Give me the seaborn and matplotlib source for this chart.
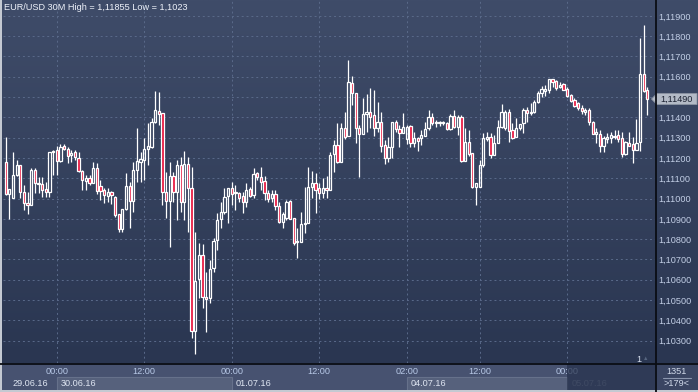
import matplotlib
matplotlib.use("Agg")
import matplotlib.pyplot as plt
import matplotlib.transforms as mtransforms
from matplotlib.patches import Rectangle, Polygon
import numpy as np
import seaborn as sns

# ---------------- data (EUR/USD 30M candles) ----------------
opens = [1.11179, 1.11022, 1.11002, 1.11115, 1.11165, 1.11032, 1.10977, 1.10967, 1.11140, 1.11071,
         1.11071, 1.11046, 1.11032, 1.11229, 1.11239, 1.11184, 1.11258, 1.11243, 1.11214, 1.11229,
         1.11199, 1.11135, 1.11086, 1.11101, 1.11076, 1.11150, 1.11061, 1.11041, 1.11012, 1.11032,
         1.11007, 1.10923, 1.10849, 1.10948, 1.11061, 1.10987, 1.11140, 1.11179, 1.11189, 1.11243,
         1.11253, 1.11377, 1.11431, 1.11421, 1.11032, 1.10987, 1.11110, 1.11032, 1.11165, 1.10982,
         1.11170, 1.11051, 1.10346, 1.10603, 1.10721, 1.10514, 1.10509, 1.10657, 1.10795, 1.10898,
         1.10933, 1.11012, 1.11051, 1.11027, 1.11027, 1.11012, 1.10982, 1.11046, 1.11017, 1.11125,
         1.11106, 1.11086, 1.11027, 1.11002, 1.11022, 1.10962, 1.10883, 1.10903, 1.10987, 1.10903,
         1.10785, 1.10785, 1.10873, 1.10878, 1.11056, 1.11076, 1.11051, 1.11027, 1.11051, 1.11041,
         1.11219, 1.11263, 1.11179, 1.11347, 1.11308, 1.11569, 1.11520, 1.11347, 1.11317, 1.11416,
         1.11426, 1.11411, 1.11347, 1.11377, 1.11263, 1.11199, 1.11253, 1.11377, 1.11342, 1.11322,
         1.11293, 1.11357, 1.11273, 1.11298, 1.11298, 1.11308, 1.11347, 1.11401, 1.11372, 1.11372,
         1.11372, 1.11372, 1.11342, 1.11406, 1.11352, 1.11401, 1.11184, 1.11278, 1.11224, 1.11056,
         1.11056, 1.11165, 1.11293, 1.11303, 1.11214, 1.11273, 1.11352, 1.11347, 1.11426, 1.11337,
         1.11303, 1.11347, 1.11372, 1.11436, 1.11421, 1.11426, 1.11475, 1.11520, 1.11529, 1.11534,
         1.11589, 1.11579, 1.11549, 1.11564, 1.11539, 1.11510, 1.11485, 1.11470, 1.11446, 1.11426,
         1.11436, 1.11377, 1.11317, 1.11317, 1.11258, 1.11293, 1.11298, 1.11303, 1.11312, 1.11298,
         1.11219, 1.11273, 1.11268, 1.11239, 1.11278, 1.11613, 1.11534]
highs = [1.11303, 1.11046, 1.11229, 1.11189, 1.11165, 1.11066, 1.11032, 1.11150, 1.11150, 1.11106,
         1.11106, 1.11081, 1.11229, 1.11239, 1.11258, 1.11268, 1.11268, 1.11253, 1.11239, 1.11239,
         1.11229, 1.11140, 1.11115, 1.11115, 1.11179, 1.11174, 1.11091, 1.11051, 1.11051, 1.11036,
         1.11012, 1.10923, 1.10948, 1.11125, 1.11081, 1.11179, 1.11347, 1.11229, 1.11298, 1.11372,
         1.11396, 1.11529, 1.11524, 1.11421, 1.11130, 1.11179, 1.11130, 1.11189, 1.11204, 1.11234,
         1.11204, 1.11155, 1.10834, 1.10780, 1.10775, 1.10637, 1.10696, 1.10805, 1.10928, 1.10982,
         1.11051, 1.11051, 1.11081, 1.11066, 1.11032, 1.11032, 1.11076, 1.11056, 1.11150, 1.11130,
         1.11155, 1.11110, 1.11041, 1.11041, 1.11041, 1.10982, 1.10933, 1.10992, 1.10992, 1.10903,
         1.10854, 1.10933, 1.11056, 1.11155, 1.11135, 1.11125, 1.11076, 1.11101, 1.11110, 1.11229,
         1.11288, 1.11372, 1.11372, 1.11426, 1.11682, 1.11603, 1.11520, 1.11362, 1.11495, 1.11515,
         1.11544, 1.11534, 1.11475, 1.11426, 1.11288, 1.11303, 1.11377, 1.11386, 1.11362, 1.11421,
         1.11362, 1.11362, 1.11327, 1.11303, 1.11337, 1.11377, 1.11436, 1.11421, 1.11386, 1.11381,
         1.11381, 1.11377, 1.11416, 1.11436, 1.11411, 1.11411, 1.11347, 1.11337, 1.11224, 1.11076,
         1.11189, 1.11322, 1.11327, 1.11322, 1.11312, 1.11386, 1.11465, 1.11436, 1.11441, 1.11372,
         1.11396, 1.11367, 1.11446, 1.11450, 1.11470, 1.11485, 1.11529, 1.11554, 1.11559, 1.11589,
         1.11589, 1.11584, 1.11574, 1.11569, 1.11549, 1.11515, 1.11495, 1.11475, 1.11460, 1.11446,
         1.11446, 1.11381, 1.11347, 1.11337, 1.11308, 1.11322, 1.11327, 1.11337, 1.11337, 1.11327,
         1.11283, 1.11327, 1.11303, 1.11391, 1.11791, 1.11855, 1.11549]
lows = [1.11017, 1.10898, 1.11002, 1.11110, 1.11002, 1.10943, 1.10923, 1.10967, 1.11027, 1.11027,
        1.11007, 1.11007, 1.11007, 1.11115, 1.11115, 1.11179, 1.11239, 1.11174, 1.11179, 1.11189,
        1.11130, 1.11041, 1.11041, 1.11066, 1.11076, 1.11022, 1.10992, 1.10977, 1.10982, 1.10972,
        1.10908, 1.10834, 1.10834, 1.10943, 1.10854, 1.10933, 1.11081, 1.11081, 1.11091, 1.11165,
        1.11248, 1.11372, 1.11362, 1.10967, 1.10903, 1.10760, 1.10982, 1.10893, 1.10933, 1.10893,
        1.10834, 1.10312, 1.10233, 1.10509, 1.10460, 1.10341, 1.10484, 1.10637, 1.10746, 1.10854,
        1.10923, 1.10878, 1.10967, 1.10943, 1.10982, 1.10928, 1.10957, 1.11007, 1.11002, 1.11091,
        1.11041, 1.10992, 1.10982, 1.10982, 1.10943, 1.10878, 1.10854, 1.10893, 1.10898, 1.10770,
        1.10706, 1.10785, 1.10829, 1.10878, 1.11002, 1.10928, 1.10997, 1.11002, 1.11002, 1.11041,
        1.11130, 1.11174, 1.11179, 1.11293, 1.11308, 1.11460, 1.11273, 1.11106, 1.11317, 1.11327,
        1.11347, 1.11308, 1.11327, 1.11229, 1.11170, 1.11179, 1.11199, 1.11327, 1.11253, 1.11322,
        1.11268, 1.11253, 1.11253, 1.11234, 1.11263, 1.11308, 1.11337, 1.11362, 1.11352, 1.11357,
        1.11362, 1.11337, 1.11337, 1.11347, 1.11312, 1.11179, 1.11184, 1.11209, 1.11051, 1.10967,
        1.11056, 1.11155, 1.11283, 1.11199, 1.11214, 1.11273, 1.11347, 1.11337, 1.11278, 1.11293,
        1.11303, 1.11337, 1.11322, 1.11377, 1.11411, 1.11421, 1.11470, 1.11500, 1.11505, 1.11520,
        1.11549, 1.11534, 1.11544, 1.11534, 1.11500, 1.11475, 1.11450, 1.11436, 1.11416, 1.11411,
        1.11362, 1.11317, 1.11273, 1.11229, 1.11229, 1.11273, 1.11273, 1.11293, 1.11278, 1.11204,
        1.11214, 1.11258, 1.11174, 1.11239, 1.11234, 1.11524, 1.11411]
closes = [1.11022, 1.11046, 1.11115, 1.11165, 1.11032, 1.10977, 1.10967, 1.11140, 1.11076, 1.11076,
          1.11041, 1.11032, 1.11229, 1.11234, 1.11184, 1.11253, 1.11243, 1.11209, 1.11224, 1.11204,
          1.11135, 1.11091, 1.11101, 1.11076, 1.11150, 1.11036, 1.11036, 1.11017, 1.11032, 1.11017,
          1.10918, 1.10849, 1.10948, 1.11061, 1.10987, 1.11140, 1.11184, 1.11194, 1.11243, 1.11258,
          1.11377, 1.11436, 1.11416, 1.11032, 1.10987, 1.11110, 1.11032, 1.11165, 1.10982, 1.11170,
          1.11051, 1.10346, 1.10593, 1.10721, 1.10514, 1.10504, 1.10652, 1.10790, 1.10893, 1.10933,
          1.11007, 1.11051, 1.11022, 1.11032, 1.11002, 1.10982, 1.11041, 1.11012, 1.11120, 1.11106,
          1.11081, 1.11027, 1.10997, 1.11022, 1.10962, 1.10883, 1.10923, 1.10982, 1.10898, 1.10780,
          1.10790, 1.10873, 1.10878, 1.11056, 1.11076, 1.11041, 1.11027, 1.11051, 1.11041, 1.11214,
          1.11263, 1.11179, 1.11347, 1.11303, 1.11574, 1.11520, 1.11347, 1.11317, 1.11416, 1.11426,
          1.11401, 1.11347, 1.11377, 1.11258, 1.11199, 1.11253, 1.11377, 1.11342, 1.11322, 1.11352,
          1.11352, 1.11273, 1.11298, 1.11283, 1.11312, 1.11342, 1.11401, 1.11372, 1.11377, 1.11377,
          1.11377, 1.11342, 1.11406, 1.11352, 1.11401, 1.11184, 1.11278, 1.11219, 1.11056, 1.11076,
          1.11165, 1.11298, 1.11303, 1.11214, 1.11273, 1.11352, 1.11426, 1.11426, 1.11332, 1.11298,
          1.11347, 1.11367, 1.11436, 1.11421, 1.11426, 1.11475, 1.11520, 1.11539, 1.11539, 1.11589,
          1.11574, 1.11544, 1.11559, 1.11534, 1.11505, 1.11480, 1.11455, 1.11446, 1.11431, 1.11436,
          1.11377, 1.11317, 1.11327, 1.11258, 1.11298, 1.11303, 1.11312, 1.11308, 1.11293, 1.11219,
          1.11278, 1.11258, 1.11239, 1.11273, 1.11613, 1.11529, 1.11490]

price_ticks = [1.103, 1.104, 1.105, 1.106, 1.107, 1.108, 1.109, 1.110, 1.111,
               1.112, 1.113, 1.114, 1.115, 1.116, 1.117, 1.118, 1.119]
time_tick_idx = [14, 38, 62, 86, 110, 130, 154]
time_tick_labels = ["00:00", "12:00", "00:00", "12:00", "02:00", "12:00", "00:00"]
date_start_idx = [0, 14, 62, 110, 154]
date_labels = ["29.06.16", "30.06.16", "01.07.16", "04.07.16", "05.07.16"]
last_price_label = "1,11490"
last_price = 1.11490
title_text = "EUR/USD 30M High = 1,11855 Low = 1,1023"
bar_count_text = "1351"
visible_text = ">179<"

# ---------------- style ----------------
sns.set_theme(style="dark")
plt.rcParams['font.family'] = ['Liberation Sans', 'DejaVu Sans']

W, H = 698, 392
fig = plt.figure(figsize=(W / 100, H / 100), dpi=100)


def fr(x0, y0, x1, y1):
    return [x0 / W, 1 - y1 / H, (x1 - x0) / W, (y1 - y0) / H]


FS = 6.6
LBL = '#c3cfe6'
PLOT_BOTTOM = 363

# background layer
bg = fig.add_axes([0, 0, 1, 1], zorder=0)
bg.set_xlim(0, W)
bg.set_ylim(H, 0)
bg.axis('off')
top_c = np.array([0x3f, 0x4c, 0x69]) / 255
bot_c = np.array([0x2a, 0x36, 0x51]) / 255
t = np.linspace(0, 1, 256)[:, None, None]
grad = top_c * (1 - t) + bot_c * t
grad = np.repeat(grad, 2, axis=1)
bg.imshow(grad, extent=(0, W, PLOT_BOTTOM, 0), aspect='auto', origin='upper',
          interpolation='bilinear', zorder=0)
bg.add_patch(Rectangle((0, PLOT_BOTTOM), W, H - PLOT_BOTTOM, facecolor='#475270',
                       edgecolor='none', zorder=1))
bg.add_patch(Rectangle((655, PLOT_BOTTOM), W - 655, H - PLOT_BOTTOM, facecolor='#3a4562',
                       edgecolor='none', zorder=1))

# main candle axes
ax = fig.add_axes(fr(3, 1, 655, PLOT_BOTTOM), zorder=2)
ax.set_facecolor('none')
x = np.arange(len(closes))
o = np.array(opens)
h = np.array(highs)
lo = np.array(lows)
c = np.array(closes)
top = np.maximum(o, c)
bot = np.minimum(o, c)
bull = c >= o

ax.vlines(x, top, h, color='white', linewidth=0.9, zorder=3)
ax.vlines(x, lo, bot, color='white', linewidth=0.9, zorder=3)
heights = np.maximum(top - bot, 0.000015)
ax.bar(x[bull], heights[bull], bottom=bot[bull], width=0.62, facecolor='none',
       edgecolor='white', linewidth=0.9, zorder=4)
ax.bar(x[~bull], heights[~bull], bottom=bot[~bull], width=0.62, facecolor='#e8163e',
       edgecolor='white', linewidth=0.9, zorder=4)

ax.set_xlim(-0.74, 178.1)
ax.set_ylim(1.10190, 1.11973)
ax.set_yticks(price_ticks)
# the last-price tag covers the tick label next to it
ax.set_yticklabels(["" if abs(v - last_price) < 0.0003 else f"{v:.5f}".replace('.', ',')
                    for v in price_ticks])
ax.yaxis.tick_right()
ax.set_xticks(time_tick_idx)
ax.set_xticklabels([])
ax.tick_params(axis='both', length=0)
ax.tick_params(axis='y', pad=2.6, labelsize=FS, labelcolor=LBL)
ax.grid(True, color='#5a6a8a', linestyle=(0, (2, 3)), linewidth=0.7)
for s in ax.spines.values():
    s.set_visible(False)

fig.text(3.5 / W, 1 - 8 / H, title_text, fontsize=FS, color='#eef2fa', va='center', ha='left',
         zorder=10)

# "1" marker
fig.text(641 / W, 1 - 359 / H, "1", fontsize=FS, color='#d8e0ee', ha='right', va='center')
fig.text(646 / W, 1 - 359 / H, "\u25b2", fontsize=4, color='#56657f', ha='center', va='center')

# bottom time axis strip
axb = fig.add_axes(fr(3, PLOT_BOTTOM, 655, H - 2), sharex=ax, zorder=3)
axb.set_facecolor('none')
axb.set_ylim(H - 2 - PLOT_BOTTOM, 0)
axb.axis('off')
xmin, xmax = ax.get_xlim()
ends = date_start_idx[1:] + [xmax]
for k, (s, e, lab) in enumerate(zip(date_start_idx, ends, date_labels)):
    s0 = max(s, xmin)
    if k in (1, 3):
        axb.add_patch(Rectangle((s0, 14), e - s0, 13.5, facecolor='#56617c',
                                edgecolor='#66718b', linewidth=0.8, zorder=1))
    tr = mtransforms.offset_copy(axb.transData, fig=fig, x=4 if k else 7, y=0, units='dots')
    col = '#7b86a0' if k == 4 else '#dfe6f2'
    axb.text(s0, 20, lab, transform=tr, fontsize=FS, color=col, ha='left', va='center', zorder=3)
for ti, tl in zip(time_tick_idx, time_tick_labels):
    axb.text(ti, 9, tl, fontsize=FS, color='#b7c8e6', ha='center', va='center', zorder=3)
axb.add_patch(Rectangle((date_start_idx[-1], 0), xmax - date_start_idx[-1], 27.5,
                        facecolor='#27324c', alpha=0.72, edgecolor='none', zorder=4))

# separators and frame
bg2 = fig.add_axes([0, 0, 1, 1], zorder=5)
bg2.set_xlim(0, W)
bg2.set_ylim(H, 0)
bg2.axis('off')
bg2.plot([655.5, 655.5], [0, H], color='#0a0d14', linewidth=1.3)
bg2.plot([0, W], [PLOT_BOTTOM + 0.5, PLOT_BOTTOM + 0.5], color='#0a0d14', linewidth=1.3)
bg2.add_patch(Rectangle((0, 0), 2, H, facecolor='#c4c9d2', edgecolor='none'))
bg2.add_patch(Rectangle((0, H - 2), W, 2, facecolor='#c4c9d2', edgecolor='none'))

# counters box
bg2.text(677, 371, bar_count_text, fontsize=FS, color='#d0d9ea', ha='center', va='center')
bg2.plot([663, 691], [377.5, 377.5], color='#8b96ae', linewidth=0.8)
bg2.text(677, 384, visible_text, fontsize=FS, color='#d0d9ea', ha='center', va='center')

# last price tag
y_last = 198.5 - (last_price - 1.110) * 20300
bg2.add_patch(Polygon([(651.5, y_last), (657, y_last - 5.5), (697, y_last - 5.5),
                       (697, y_last + 5.5), (657, y_last + 5.5)], closed=True,
                      facecolor='#b3bac6', edgecolor='#8c94a3', linewidth=0.6))
bg2.text(677, y_last + 0.3, last_price_label, fontsize=FS, color='#1c2232', ha='center', va='center')

fig.savefig('out.png', dpi=100)
